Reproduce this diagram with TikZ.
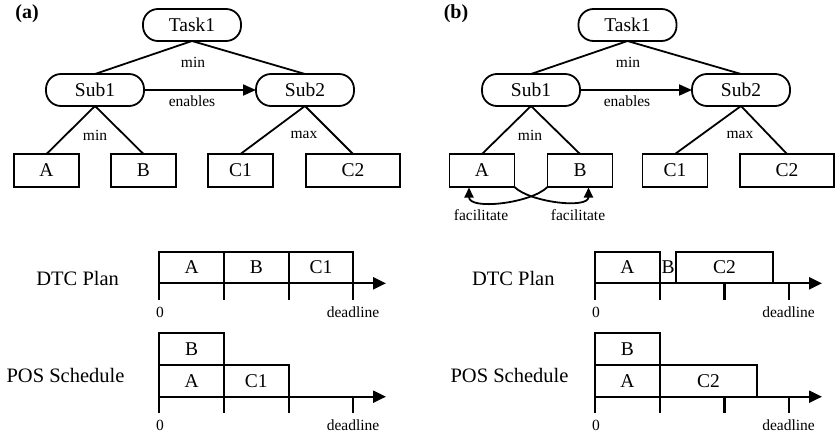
\documentclass[tikz,border=0pt]{standalone}
\usepackage{fontspec}
\setmainfont{Liberation Serif}
\usetikzlibrary{arrows.meta,positioning}
\begin{document}
\begin{tikzpicture}[x=1pt,y=-1pt,
  every node/.style={inner sep=0pt,outer sep=0pt},
  rnode/.style={draw,line width=1.8pt,rounded corners=15pt,minimum width=98pt,minimum height=32pt,font=\fontsize{19.5}{19.5}\selectfont},
  lnode/.style={draw,line width=1.8pt,minimum width=65pt,minimum height=33pt,font=\fontsize{19.5}{19.5}\selectfont},
  wnode/.style={lnode,minimum width=94pt},
  edge/.style={line width=1.8pt},
  lbl/.style={font=\fontsize{15.5}{15.5}\selectfont},
  big/.style={font=\fontsize{20.5}{20.5}\selectfont},
  panel/.style={font=\fontsize{20}{20}\selectfont\bfseries},
  tbox/.style={draw,line width=1.8pt,anchor=north west,font=\fontsize{19.5}{19.5}\selectfont},
  axis/.style={line width=2.2pt,-{Triangle[length=13pt,width=12pt]}},
  tick/.style={line width=2.2pt},
  enab/.style={line width=1.8pt,-{Triangle[length=13pt,width=11pt]}},
  fac/.style={line width=1.8pt,-{Triangle[length=10pt,width=9pt]}}
]
\useasboundingbox[fill=white] (0,0) rectangle (835,434);

% ---------------- panel (a) tree ----------------
\node[panel] (pa) at (27,14) {(a)};
\node[rnode] (aT) at (192,25) {Task1};
\node[rnode] (aS1) at (95,90) {Sub1};
\node[rnode] (aS2) at (305,90) {Sub2};
\node[lnode] (aA) at (46.5,170.5) {A};
\node[lnode] (aB) at (143.5,170.5) {B};
\node[lnode] (aC1) at (240.5,170.5) {C1};
\node[wnode] (aC2) at (353,170.5) {C2};
\draw[edge] (aT.south) -- (aS1.north);
\draw[edge] (aT.south) -- (aS2.north);
\draw[edge] (aS1.south) -- (aA.north);
\draw[edge] (aS1.south) -- (aB.north);
\draw[edge] (aS2.south) -- (aC1.north);
\draw[edge] (aS2.south) -- (aC2.north);
\draw[enab] (aS1.east) -- (aS2.west);
\node[lbl] (aLmin) at (193,62) {min};
\node[lbl] (aLen) at (192,101) {enables};
\node[lbl] (aLmin2) at (95,135) {min};
\node[lbl] (aLmax) at (304,135) {max};

% ---------------- panel (b) tree ----------------
\node[panel] (pb) at (456,14) {(b)};
\node[rnode] (bT) at (627.5,25) {Task1};
\node[rnode] (bS1) at (531,90) {Sub1};
\node[rnode] (bS2) at (741,90) {Sub2};
\node[lnode] (bA) at (482,170.5) {A};
\node[lnode] (bB) at (580,170.5) {B};
\node[lnode] (bC1) at (675,170.5) {C1};
\node[wnode] (bC2) at (787,170.5) {C2};
\draw[edge] (bT.south) -- (bS1.north);
\draw[edge] (bT.south) -- (bS2.north);
\draw[edge] (bS1.south) -- (bA.north);
\draw[edge] (bS1.south) -- (bB.north);
\draw[edge] (bS2.south) -- (bC1.north);
\draw[edge] (bS2.south) -- (bC2.north);
\draw[enab] (bS1.east) -- (bS2.west);
\node[lbl] (bLmin) at (628,62) {min};
\node[lbl] (bLen) at (627,101) {enables};
\node[lbl] (bLmin2) at (530,135) {min};
\node[lbl] (bLmax) at (740,135) {max};
\coordinate (bAt) at (469,187.5);
\coordinate (bBt) at (588.5,187.5);
\draw[fac] (bA.south east) to[out=-45,in=-90,looseness=0.75] (bBt);
\draw[fac] (bB.south west) to[out=-135,in=-90,looseness=0.75] (bAt);
\node[lbl] (bF1) at (481,215) {facilitate};
\node[lbl] (bF2) at (578,215) {facilitate};

% ---------------- panel (a) timelines ----------------
\node[big] (aDTC) at (77.7,278) {DTC Plan};
\node[tbox,minimum width=64.7pt,minimum height=31.6pt] (aDA) at (159.3,251.7) {A};
\node[tbox,minimum width=64.7pt,minimum height=31.6pt] (aDB) at (224,251.7) {B};
\node[tbox,minimum width=64.6pt,minimum height=31.6pt] (aDC) at (288.7,251.7) {C1};
\coordinate (aD0) at (159.3,283.3);
\coordinate (aDe) at (386,283.3);
\draw[axis] (aD0) -- (aDe);
\foreach \i/\x in {0/159.3,1/224,2/288.7,3/353.3}{
  \coordinate (aDt\i) at (\x,283.3);
  \draw[tick] (aDt\i) -- ++(0,17);
}
\node[lbl] (aD0l) at (160,312.5) {0};
\node[lbl] (aDdl) at (353,312.5) {deadline};

\node[big] (aPOS) at (65.5,375) {POS Schedule};
\node[tbox,minimum width=64.7pt,minimum height=32.3pt] (aPB) at (159.3,332.7) {B};
\node[tbox,minimum width=64.7pt,minimum height=31.7pt] (aPA) at (159.3,365) {A};
\node[tbox,minimum width=64.7pt,minimum height=31.7pt] (aPC) at (224,365) {C1};
\coordinate (aP0) at (159.3,396.7);
\coordinate (aPe) at (386,396.7);
\draw[axis] (aP0) -- (aPe);
\foreach \i/\x in {0/159.3,1/224,2/288.7,3/353.3}{
  \coordinate (aPt\i) at (\x,396.7);
  \draw[tick] (aPt\i) -- ++(0,16);
}
\node[lbl] (aP0l) at (160,425) {0};
\node[lbl] (aPdl) at (353,425) {deadline};

% ---------------- panel (b) timelines ----------------
\node[big] (bDTC) at (513.3,278) {DTC Plan};
\node[tbox,minimum width=64.7pt,minimum height=31.6pt] (bDA) at (595,251.7) {A};
\node[font=\fontsize{19.5}{19.5}\selectfont] (bDB) at (668,267.5) {B};
\node[tbox,minimum width=97.6pt,minimum height=31.6pt] (bDC) at (675.7,251.7) {C2};
\coordinate (bD0) at (595,283.3);
\coordinate (bDe) at (822,283.3);
\draw[axis] (bD0) -- (bDe);
\foreach \i/\x in {0/595,1/659.7,2/724.4,3/789.1}{
  \coordinate (bDt\i) at (\x,283.3);
  \draw[tick] (bDt\i) -- ++(0,17);
}
\node[lbl] (bD0l) at (596,312.5) {0};
\node[lbl] (bDdl) at (788.5,312.5) {deadline};

\node[big] (bPOS) at (509.5,375) {POS Schedule};
\node[tbox,minimum width=64.7pt,minimum height=32.3pt] (bPB) at (595,332.7) {B};
\node[tbox,minimum width=64.7pt,minimum height=31.7pt] (bPA) at (595,365) {A};
\node[tbox,minimum width=97.6pt,minimum height=31.7pt] (bPC) at (659.7,365) {C2};
\coordinate (bP0) at (595,396.7);
\coordinate (bPe) at (822,396.7);
\draw[axis] (bP0) -- (bPe);
\foreach \i/\x in {0/595,1/659.7,2/724.4,3/789.1}{
  \coordinate (bPt\i) at (\x,396.7);
  \draw[tick] (bPt\i) -- ++(0,16);
}
\node[lbl] (bP0l) at (596,425) {0};
\node[lbl] (bPdl) at (788.5,425) {deadline};
\end{tikzpicture}
\end{document}
